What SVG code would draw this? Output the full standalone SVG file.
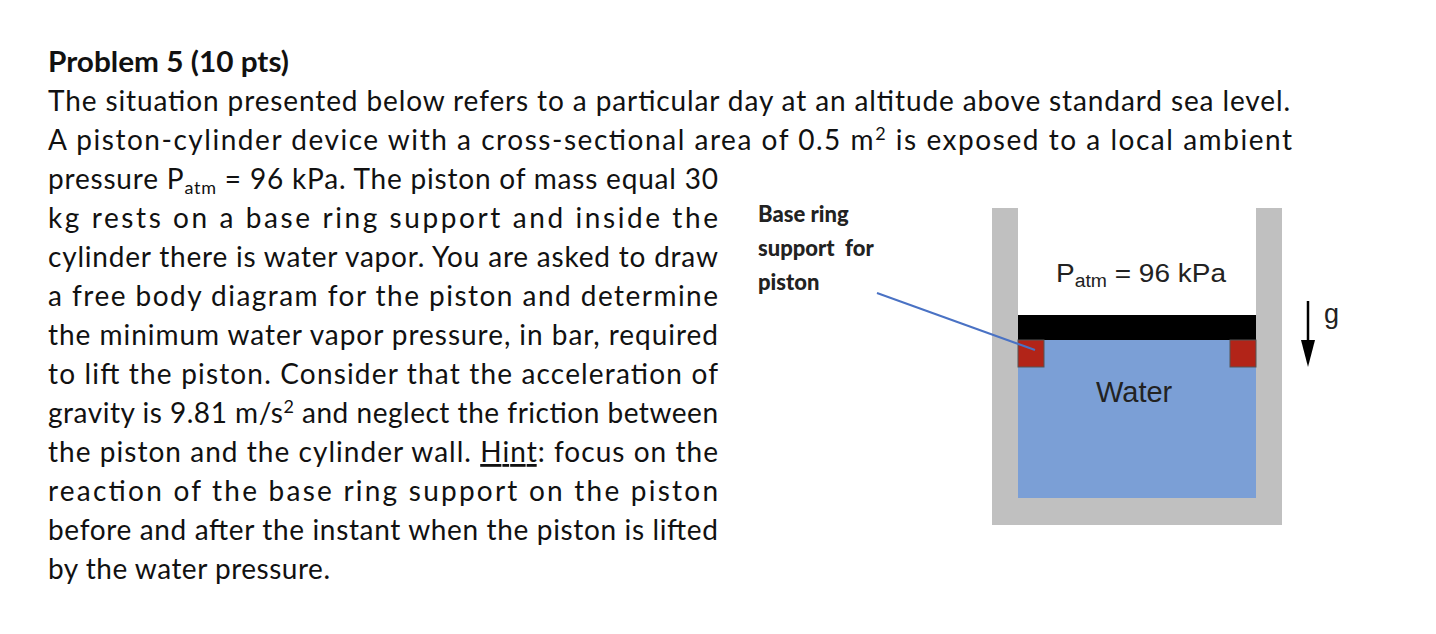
<svg xmlns="http://www.w3.org/2000/svg" width="1436" height="634" viewBox="0 0 1436 634">
<style>
.t{font-family:Lato,"Open Sans",sans-serif;font-size:28px;fill:#111}
.b{font-weight:bold}
.lab{font-family:Lato,"Open Sans",sans-serif;font-size:22px;font-weight:900;fill:#222}
.d{font-family:"Liberation Sans",Arial,sans-serif;fill:#222}
.wall{fill:#c0c0c0}
.ring{fill:#b22418;stroke:#555;stroke-width:1}
</style>
<rect width="1436" height="634" fill="#fff"/>
<g id="text">
<text class="t b" x="48" y="72" textLength="241" lengthAdjust="spacingAndGlyphs">Problem 5 (10 pts)</text>
<text class="t" x="48" y="111" textLength="1242" lengthAdjust="spacing">The situation presented below refers to a particular day at an altitude above standard sea level.</text>
<text class="t" x="48" y="150" textLength="1244" lengthAdjust="spacing">A piston-cylinder device with a cross-sectional area of 0.5 m<tspan dy="-10" font-size="18">2</tspan><tspan dy="10"> is exposed to a local ambient</tspan></text>
<text class="t" x="48" y="189" textLength="670" lengthAdjust="spacing">pressure P<tspan dy="5" font-size="18">atm</tspan><tspan dy="-5"> = 96 kPa. The piston of mass equal 30</tspan></text>
<text class="t" x="48" y="228" textLength="670" lengthAdjust="spacing">kg rests on a base ring support and inside the</text>
<text class="t" x="48" y="267" textLength="670" lengthAdjust="spacing">cylinder there is water vapor. You are asked to draw</text>
<text class="t" x="48" y="306" textLength="670" lengthAdjust="spacing">a free body diagram for the piston and determine</text>
<text class="t" x="48" y="345" textLength="670" lengthAdjust="spacing">the minimum water vapor pressure, in bar, required</text>
<text class="t" x="48" y="384" textLength="670" lengthAdjust="spacing">to lift the piston. Consider that the acceleration of</text>
<text class="t" x="48" y="423" textLength="670" lengthAdjust="spacing">gravity is 9.81 m/s<tspan dy="-10" font-size="18">2</tspan><tspan dy="10"> and neglect the friction between</tspan></text>
<text class="t" x="48" y="462" textLength="670" lengthAdjust="spacing">the piston and the cylinder wall.  <tspan text-decoration="underline">Hint</tspan>: focus on the</text>
<text class="t" x="48" y="501" textLength="670" lengthAdjust="spacing">reaction of the base ring support on the piston</text>
<text class="t" x="48" y="540" textLength="670" lengthAdjust="spacing">before and after the instant when the piston is lifted</text>
<text class="t" x="48" y="579" textLength="282" lengthAdjust="spacing">by the water pressure.</text>
</g>
<g id="cylinder">
<rect class="wall" x="992" y="208" width="26" height="317"/>
<rect class="wall" x="1256" y="208" width="26" height="317"/>
<rect class="wall" x="1018" y="498" width="238" height="27"/>
<rect x="1018" y="340" width="238" height="158" fill="#7b9fd6"/>
<rect x="1018" y="315" width="238" height="25" fill="#000"/>
<rect class="ring" x="1018" y="340" width="26" height="27"/>
<rect class="ring" x="1230" y="340" width="26" height="27"/>
<text class="d" x="1056" y="282" font-size="26" textLength="170" lengthAdjust="spacingAndGlyphs">P<tspan dy="5" font-size="18">atm</tspan><tspan dy="-5"> = 96 kPa</tspan></text>
<text class="d" x="1096" y="402" font-size="29">Water</text>
</g>
<g id="label">
<text class="lab" x="758" y="222">Base ring</text>
<text class="lab" x="758" y="256" xml:space="preserve">support  for</text>
<text class="lab" x="758" y="290">piston</text>
</g>
<g id="gravity">
<line x1="1308" y1="301" x2="1308" y2="345" stroke="#000" stroke-width="2.5"/>
<polygon points="1301,340 1315,340 1308,367" fill="#000"/>
<text class="d" x="1324" y="323" font-size="27">g</text>
</g>
<g id="connectors">
<line x1="877" y1="293" x2="1035" y2="350" stroke="#4a72c4" stroke-width="2"/>
</g>
</svg>
